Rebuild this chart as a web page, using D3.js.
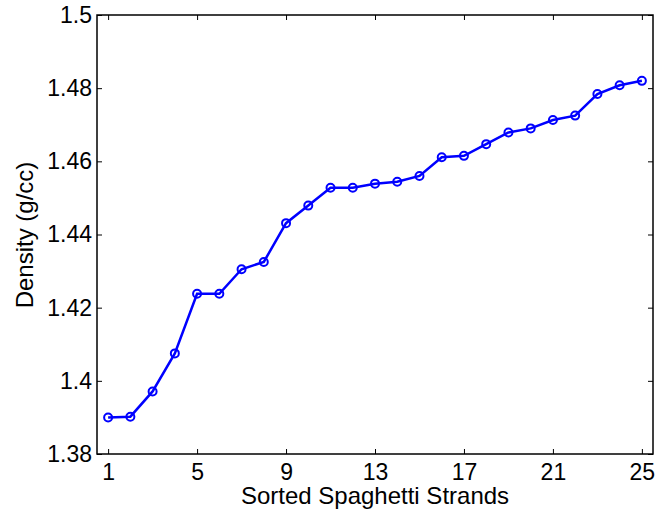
<!doctype html>
<html>
<head>
<meta charset="utf-8"/>
<script src="https://d3js.org/d3.v7.min.js"></script>
<style>
body { margin: 0; background: #fff; }
text { font-family: "Liberation Sans", Arial, sans-serif; fill: #000; }
</style>
</head>
<body>
<script>
// strand index and measured density
var strands = d3.range(1, 26);
var density = [1.3900, 1.3902, 1.3971, 1.4075, 1.4238, 1.4238, 1.4305, 1.4325, 1.4431, 1.4479,
               1.4528, 1.4528, 1.4539, 1.4544, 1.4560, 1.4611, 1.4615, 1.4647, 1.4679, 1.4690,
               1.4713, 1.4725, 1.4784, 1.4808, 1.4820];
var xTicks = [1, 5, 9, 13, 17, 21, 25];
var yTicks = [1.38, 1.4, 1.42, 1.44, 1.46, 1.48, 1.5];

var W = 668, H = 510;
var mLeft = 97, mRight = 653, mTop = 15, mBottom = 454;

var svg = d3.select("body").append("svg")
    .attr("width", W).attr("height", H);

var x = d3.scaleLinear().domain([0.5, 25.5]).range([mLeft, mRight]);
var y = d3.scaleLinear().domain([1.38, 1.5]).range([mBottom, mTop]);

// ticks point inward, on all four sides
var fmt = function(d) { return String(+d.toFixed(2)); };
svg.append("g").attr("transform", "translate(0," + mBottom + ")")
    .call(d3.axisBottom(x).tickValues(xTicks).tickSize(-5).tickPadding(10).tickFormat(d3.format("d")));
svg.append("g").attr("transform", "translate(0," + mTop + ")")
    .call(d3.axisTop(x).tickValues(xTicks).tickSize(-5).tickFormat(""));
svg.append("g").attr("transform", "translate(" + mLeft + ",0)")
    .call(d3.axisLeft(y).tickValues(yTicks).tickSize(-5).tickPadding(5).tickFormat(fmt));
svg.append("g").attr("transform", "translate(" + mRight + ",0)")
    .call(d3.axisRight(y).tickValues(yTicks).tickSize(-5).tickFormat(""));

svg.selectAll(".domain").remove();
svg.selectAll(".tick line").attr("stroke", "#000").attr("stroke-width", 1);
svg.selectAll(".tick text").style("font-size", "23px").attr("fill", "#000")
    .style("font-family", "'Liberation Sans', Arial, sans-serif");

svg.append("rect")
    .attr("x", mLeft).attr("y", mTop)
    .attr("width", mRight - mLeft).attr("height", mBottom - mTop)
    .attr("fill", "none").attr("stroke", "#000").attr("stroke-width", 1.5);

var line = d3.line()
    .x(function(d, i) { return x(strands[i]); })
    .y(function(d) { return y(d); });

svg.append("path")
    .datum(density)
    .attr("d", line)
    .attr("fill", "none")
    .attr("stroke", "#0000ff")
    .attr("stroke-width", 2.5);

svg.selectAll("circle.pt")
    .data(density)
    .enter().append("circle")
    .attr("class", "pt")
    .attr("cx", function(d, i) { return x(strands[i]); })
    .attr("cy", function(d) { return y(d); })
    .attr("r", 4)
    .attr("fill", "none")
    .attr("stroke", "#0000ff")
    .attr("stroke-width", 2);

svg.append("text")
    .attr("x", (mLeft + mRight) / 2).attr("y", 504)
    .attr("text-anchor", "middle")
    .style("font-size", "24px")
    .text("Sorted Spaghetti Strands");

svg.append("text")
    .attr("transform", "translate(33," + ((mTop + mBottom) / 2 + 0.5) + ") rotate(-90)")
    .attr("text-anchor", "middle")
    .style("font-size", "24px")
    .text("Density (g/cc)");
</script>
</body>
</html>
